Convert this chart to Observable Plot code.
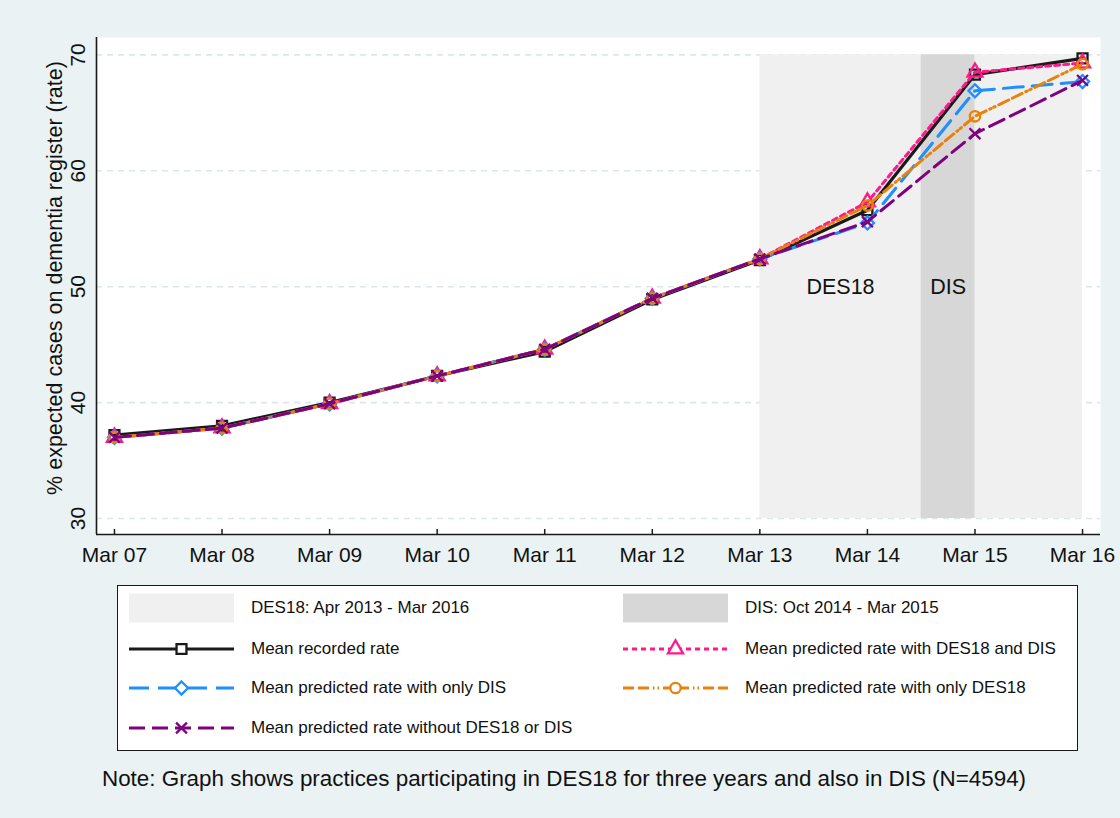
<!DOCTYPE html>
<html><head><meta charset="utf-8">
<script src="https://cdn.jsdelivr.net/npm/d3@7"></script>
<script src="https://cdn.jsdelivr.net/npm/@observablehq/plot@0.6"></script>
<style>
body{margin:0;background:#EAF2F3;}
#wrap{position:relative;width:1120px;height:818px;background:#EAF2F3;font-family:"Liberation Sans",Arial,sans-serif;color:#111;overflow:hidden;}
#chart{position:absolute;left:0;top:0;}
#legendbox{position:absolute;left:117px;top:585px;width:959px;height:164px;border:1.5px solid #1a1a1a;background:#fff;}
.li{position:absolute;height:30px;display:flex;align-items:center;font-size:17px;white-space:nowrap;}
.li svg{flex:none;margin-right:17px;}
#note{position:absolute;left:102px;top:768px;font-size:22.4px;line-height:22px;white-space:nowrap;}
</style></head><body>
<div id="wrap"><div id="chart"></div><div id="legendbox"></div><div id="note"></div></div>
<script>
// ---- data ----
const months = ["Mar 07","Mar 08","Mar 09","Mar 10","Mar 11","Mar 12","Mar 13","Mar 14","Mar 15","Mar 16"];
const monthIndex = [0,1,2,3,4,5,6,7,8,9];
const recorded      = [37.2, 38.0, 40.0, 42.3, 44.4, 48.9, 52.3, 56.6, 68.3, 69.7];
const predBoth      = [37.0, 37.8, 39.9, 42.3, 44.6, 49.0, 52.4, 57.3, 68.5, 69.3];
const predOnlyDIS   = [37.0, 37.8, 39.9, 42.3, 44.6, 49.0, 52.4, 55.5, 66.9, 67.7];
const predOnlyDES18 = [37.0, 37.8, 39.9, 42.3, 44.6, 49.0, 52.4, 57.0, 64.7, 69.2];
const predNeither   = [37.0, 37.8, 39.9, 42.3, 44.6, 49.0, 52.4, 55.6, 63.2, 67.8];
const seriesNames = ["Mean recorded rate","Mean predicted rate with DES18 and DIS","Mean predicted rate with only DIS","Mean predicted rate with only DES18","Mean predicted rate without DES18 or DIS"];
const yTicks = [30,40,50,60,70];
const periodNames = ["DES18","DIS"];
const periodLegend = ["DES18: Apr 2013 - Mar 2016","DIS: Oct 2014 - Mar 2015"];
const periodStart = [6, 7.5];
const periodEnd = [9, 8];
const periodLow = [30, 30];
const periodHigh = [70, 70];
const periodLabelX = [6.75, 7.75];
const periodLabelY = [50, 50];
const yTitle = "% expected cases on dementia register (rate)";
const noteText = "Note: Graph shows practices participating in DES18 for three years and also in DIS (N=4594)";

// ---- styles ----
const diamondSq = {draw(c, size){ const h = Math.sqrt(size/2); c.moveTo(0,-h); c.lineTo(h,0); c.lineTo(0,h); c.lineTo(-h,0); c.closePath(); }};
const seriesValues = [recorded, predBoth, predOnlyDIS, predOnlyDES18, predNeither];
const styles = [
  {color:"#1a1a1a", dash:null, symbol:d3.symbolSquare, r:5.6, sw:3.2},
  {color:"#FF1A8C", dash:"5,4", symbol:d3.symbolTriangle, r:5.6, sw:3},
  {color:"#1E8FFF", dash:"20,9", symbol:diamondSq, r:5.2, sw:3},
  {color:"#E8820C", dash:"11,4,11,4,1.5,3,1.5,4", symbol:d3.symbolCircle, r:5.2, sw:3},
  {color:"#800080", dash:"16,7", symbol:d3.symbolTimes, r:5.0, sw:3}
];
const periodFill = ["#F0F0F0", "#D7D7D7"];
const xDomain = [-0.167, 9.167];
const yDomain = [28.62, 71.5];

const periods = periodNames.map((n,i)=>({n, i}));
const marks = [
  Plot.frame({fill:"white", stroke:null}),
  Plot.gridY(yTicks, {stroke:"#DCE7E9", strokeOpacity:1, strokeWidth:1.6, strokeDasharray:"6,5"}),
  Plot.rect(periods, {x1:d=>periodStart[d.i], x2:d=>periodEnd[d.i], y1:d=>periodLow[d.i], y2:d=>periodHigh[d.i], fill:d=>periodFill[d.i]}),
  Plot.text(periods, {x:d=>periodLabelX[d.i], y:d=>periodLabelY[d.i], text:d=>d.n, fontSize:21.5, fill:"#111"}),
  Plot.ruleX([xDomain[0]], {stroke:"#1a1a1a", strokeWidth:1.6}),
  Plot.ruleY([yDomain[0]], {stroke:"#1a1a1a", strokeWidth:1.6}),
  Plot.tickX(monthIndex, {x:d=>d, insetTop:492, stroke:"#1a1a1a", strokeWidth:1.5})
];
seriesValues.forEach((vals, s) => {
  const st = styles[s];
  marks.push(Plot.line(monthIndex, {x:i=>i, y:i=>vals[i], stroke:st.color, strokeWidth:st.sw, strokeDasharray:st.dash, strokeLinejoin:"round"}));
  marks.push(Plot.dot(monthIndex, {x:i=>i, y:i=>vals[i], symbol:st.symbol, r:st.r, stroke:st.color, fill:"none", strokeWidth:2.3}));
});
marks.push(
  Plot.axisX(monthIndex, {tickFormat:i=>months[i], tickSize:0, tickPadding:13, fontSize:21, label:null}),
  Plot.text(yTicks, {y:d=>d, text:d=>String(d), frameAnchor:"left", textAnchor:"middle", lineAnchor:"middle", dx:-18, rotate:-90, fontSize:21, fill:"#111"}),
  Plot.text([yTitle], {text:d=>d, frameAnchor:"left", textAnchor:"middle", lineAnchor:"middle", dx:-41, dy:-8, rotate:-90, fontSize:21.5, fill:"#111"})
);

const chart = Plot.plot({
  width:1120, height:580,
  marginLeft:96, marginRight:20, marginTop:37, marginBottom:46,
  x:{type:"linear", domain:xDomain, axis:null},
  y:{type:"linear", domain:yDomain, axis:null},
  style:{background:"transparent", fontFamily:"'Liberation Sans', Arial, sans-serif", fontSize:"21px", color:"#111", overflow:"visible"},
  marks
});
document.getElementById("chart").appendChild(chart);

// ---- legend ----
const wrap = document.getElementById("wrap");
function item(left, cy, text, draw){
  const div = document.createElement("div");
  div.className = "li";
  div.style.left = left + "px";
  div.style.top = (cy - 15) + "px";
  const svg = d3.create("svg").attr("width",105).attr("height",30);
  draw(svg);
  div.appendChild(svg.node());
  const span = document.createElement("span");
  span.textContent = text;
  div.appendChild(span);
  wrap.appendChild(div);
}
const cols = [129, 623];
const rowsY = [608, 649, 688, 728];
periodNames.forEach((n,i)=>{
  item(cols[i], rowsY[0], periodLegend[i], svg=>{
    svg.append("rect").attr("x",0).attr("y",0.5).attr("width",105).attr("height",29).attr("fill",periodFill[i]);
  });
});
const slots = [[0,1],[1,1],[0,2],[1,2],[0,3]];
seriesNames.forEach((name,s)=>{
  const st = styles[s];
  const [c,r] = slots[s];
  item(cols[c], rowsY[r], name, svg=>{
    svg.append("line").attr("x1",0).attr("x2",105).attr("y1",15).attr("y2",15)
      .attr("stroke",st.color).attr("stroke-width",st.sw).attr("stroke-dasharray",st.dash);
    svg.append("path").attr("transform","translate(52.5,15)")
      .attr("d", d3.symbol(st.symbol, Math.PI*st.r*st.r)())
      .attr("fill", st.symbol===d3.symbolTimes ? "none" : "white").attr("stroke",st.color).attr("stroke-width",2.3);
  });
});
document.getElementById("note").textContent = noteText;
</script>
</body></html>
